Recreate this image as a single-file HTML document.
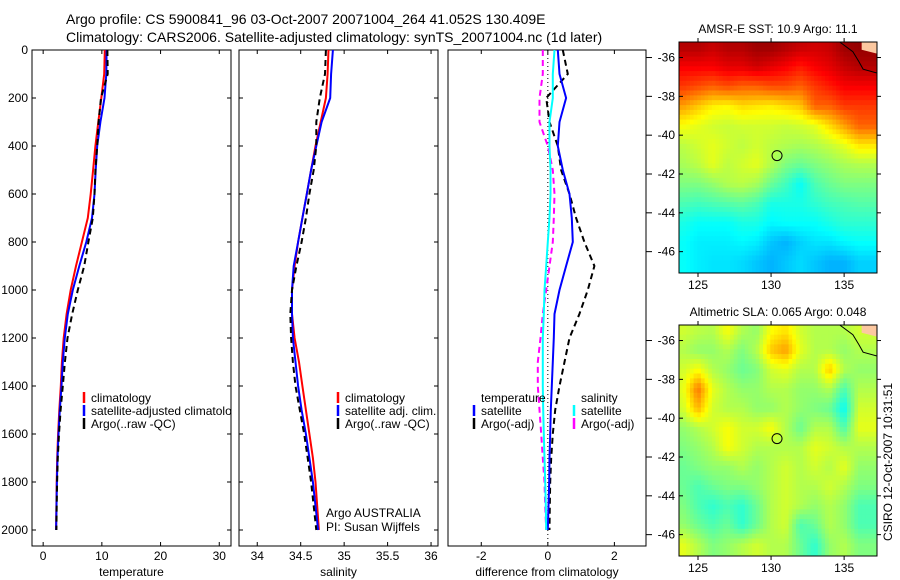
<!DOCTYPE html>
<html><head><meta charset="utf-8"><style>
body{margin:0;background:#fff;}
svg{display:block;font-family:"Liberation Sans",sans-serif;}
</style></head><body>
<svg id="fig" width="900" height="580" viewBox="0 0 900 580" xmlns="http://www.w3.org/2000/svg">
<rect width="900" height="580" fill="#fff"/>
<text x="66" y="24" font-size="14">Argo profile: CS 5900841_96 03-Oct-2007 20071004_264 41.052S 130.409E</text>
<text x="66" y="42" font-size="14">Climatology: CARS2006. Satellite-adjusted climatology: synTS_20071004.nc (1d later)</text>
<defs><clipPath id="p1clip"><rect x="32" y="380" width="199" height="60"/></clipPath></defs>
<g id="g"></g>
</svg>
<script>
// ---- profile data ----
const depths = [0,100,200,300,400,500,600,700,800,900,1000,1100,1200,1300,1400,1500,1600,1700,1800,1900,2000];
const climT = [10.5,10.4,9.9,9.4,8.9,8.5,8.1,7.6,6.6,5.6,4.7,4.0,3.5,3.2,3.0,2.75,2.55,2.4,2.3,2.25,2.2];
const satT = [10.8,10.75,10.45,9.75,9.2,8.95,8.75,8.32,7.35,6.15,5.05,4.2,3.68,3.35,3.12,2.84,2.62,2.45,2.34,2.27,2.2];
const argoT = [10.95,11.0,9.85,9.45,9.2,8.9,8.75,8.45,7.7,7.0,5.9,4.95,4.15,3.7,3.35,2.97,2.7,2.5,2.37,2.31,2.25];
const climS = [34.82,34.81,34.79,34.73,34.67,34.62,34.57,34.52,34.47,34.43,34.40,34.40,34.43,34.48,34.52,34.56,34.60,34.64,34.67,34.69,34.71];
const satS = [34.87,34.85,34.84,34.74,34.68,34.62,34.57,34.52,34.47,34.42,34.40,34.40,34.41,34.44,34.47,34.51,34.56,34.60,34.64,34.67,34.70];
const argoS = [34.79,34.78,34.72,34.68,34.68,34.65,34.60,34.56,34.51,34.45,34.40,34.38,34.39,34.41,34.44,34.49,34.54,34.58,34.62,34.65,34.68];
const dSatT = [0.3,0.35,0.55,0.35,0.3,0.45,0.65,0.72,0.75,0.55,0.35,0.2,0.18,0.15,0.12,0.09,0.07,0.05,0.04,0.02,0.0];
const dArgoT = [0.45,0.6,-0.05,0.05,0.3,0.4,0.65,0.85,1.1,1.4,1.2,0.95,0.65,0.5,0.35,0.22,0.15,0.1,0.07,0.06,0.05];
const dSatS = [0.2,0.15,0.15,0.05,0.05,0.08,0.08,0.05,0.0,-0.05,-0.1,-0.12,-0.15,-0.15,-0.15,-0.14,-0.12,-0.1,-0.08,-0.06,-0.05];
const dArgoS = [-0.15,-0.15,-0.25,-0.25,0.0,0.15,0.2,0.18,0.15,0.05,-0.05,-0.15,-0.22,-0.3,-0.3,-0.25,-0.2,-0.15,-0.1,-0.08,-0.05];
const depthTicks = [0,200,400,600,800,1000,1200,1400,1600,1800,2000];
const tTicks = [0,10,20,30];
const sTicks = [34,34.5,35,35.5,36];
const dTicks = [-2,0,2];
// ---- map data (jet-scale 0..1), rows from north (-35.5) to south (-46.5), cols 124..136 ----
const mapLons = [124,125,126,127,128,129,130,131,132,133,134,135,136];
const mapLats = [-35.5,-36.5,-37.5,-38.5,-39.5,-40.5,-41.5,-42.5,-43.5,-44.5,-45.5,-46.5];
const sstGrid = [
[0.95,0.95,0.93,0.95,0.95,0.97,0.97,0.95,0.93,0.92,0.93,0.97,0.98],
[0.88,0.88,0.88,0.9,0.9,0.92,0.9,0.88,0.85,0.88,0.9,0.93,0.95],
[0.82,0.8,0.78,0.8,0.78,0.78,0.8,0.8,0.78,0.82,0.85,0.88,0.88],
[0.72,0.68,0.64,0.63,0.66,0.65,0.64,0.66,0.68,0.78,0.78,0.82,0.82],
[0.62,0.6,0.58,0.57,0.58,0.58,0.58,0.57,0.58,0.6,0.66,0.72,0.78],
[0.56,0.58,0.6,0.58,0.56,0.58,0.56,0.55,0.54,0.55,0.57,0.6,0.65],
[0.54,0.56,0.6,0.56,0.58,0.6,0.55,0.5,0.48,0.5,0.52,0.54,0.55],
[0.5,0.5,0.52,0.55,0.56,0.54,0.48,0.44,0.38,0.45,0.48,0.5,0.5],
[0.45,0.44,0.45,0.46,0.47,0.45,0.4,0.4,0.4,0.42,0.44,0.45,0.46],
[0.4,0.38,0.38,0.38,0.4,0.4,0.37,0.38,0.38,0.38,0.4,0.42,0.42],
[0.38,0.36,0.36,0.36,0.37,0.36,0.32,0.3,0.33,0.35,0.35,0.37,0.38],
[0.38,0.36,0.35,0.35,0.34,0.32,0.3,0.32,0.34,0.32,0.3,0.3,0.33]];
const slaGrid = [
[.58,.56,.55,.62,.55,.52,.62,.65,.58,.55,.55,.55,.58],
[.55,.52,.52,.55,.5,.55,.68,.72,.6,.55,.55,.52,.55],
[.58,.62,.55,.52,.48,.5,.58,.6,.55,.55,.68,.55,.52],
[.6,.76,.6,.55,.52,.52,.55,.55,.52,.52,.55,.45,.55],
[.58,.7,.58,.55,.55,.52,.52,.55,.52,.5,.48,.38,.58],
[.52,.55,.58,.62,.58,.58,.62,.55,.48,.55,.55,.45,.6],
[.5,.52,.55,.62,.58,.55,.55,.55,.55,.6,.58,.55,.55],
[.48,.5,.52,.52,.55,.52,.55,.58,.55,.58,.55,.6,.52],
[.48,.45,.48,.5,.5,.52,.55,.58,.55,.55,.58,.55,.5],
[.5,.45,.42,.45,.42,.48,.55,.58,.55,.52,.55,.52,.45],
[.52,.48,.45,.48,.42,.48,.55,.58,.45,.48,.55,.52,.45],
[.6,.55,.5,.52,.55,.58,.55,.55,.48,.42,.52,.55,.5]];
const latTicks = [-36,-38,-40,-42,-44,-46];
const lonTicks = [125,130,135];
const floatLon = 130.409, floatLat = -41.052;

const NS="http://www.w3.org/2000/svg";
const G=document.getElementById('g');
function el(tag,attrs,parent){const e=document.createElementNS(NS,tag);for(const k in attrs)e.setAttribute(k,attrs[k]);(parent||G).appendChild(e);return e;}
function txt(x,y,s,anchor,size,parent){const t=el('text',{x:x,y:y,'font-size':size||12,'text-anchor':anchor||'start'},parent);t.textContent=s;return t;}

const Y0=50, Y1=546, yScale=d=>50+d*0.24;
const panels=[
 {x0:32,x1:231,min:-1.9,max:32,ticks:tTicks,label:'temperature',name:'temperature-panel'},
 {x0:239,x1:438,min:33.79,max:36.08,ticks:sTicks,label:'salinity',name:'salinity-panel'},
 {x0:448,x1:646,min:-3.0,max:2.95,ticks:dTicks,label:'difference from climatology',name:'difference-panel'}];
panels.forEach((p,i)=>{
 p.xs=v=>p.x0+(v-p.min)/(p.max-p.min)*(p.x1-p.x0);
 const g=el('g',{});
 
 
 el('rect',{x:p.x0,y:Y0,width:p.x1-p.x0,height:Y1-Y0,fill:'#fff',stroke:'#000','stroke-width':1},g);
 p.ticks.forEach(t=>{const x=p.xs(t);
  el('line',{x1:x,x2:x,y1:Y1,y2:Y1-4,stroke:'#000'},g);
  el('line',{x1:x,x2:x,y1:Y0,y2:Y0+4,stroke:'#000'},g);
  const lb=txt(x,560,String(t),'middle',12,g);
  
  
 });
 if(i<2){depthTicks.forEach(d=>{const y=yScale(d);
  el('line',{x1:p.x0,x2:p.x0+4,y1:y,y2:y,stroke:'#000'},g);
  el('line',{x1:p.x1,x2:p.x1-4,y1:y,y2:y,stroke:'#000'},g);
 });}
 const xt=txt((p.x0+p.x1)/2,576,p.label,'middle',12,g);
 
 
});
depthTicks.forEach(d=>{const t=txt(28,yScale(d)+4,String(d),'end',12);
 
 });
latTicks.forEach(l=>{[42,325].forEach(top=>{const y=top+(-35.2-l)/11.9*231;
 el('line',{x1:646,x2:652,y1:y,y2:y,stroke:'#000'});});});
el('line',{x1:panels[2].xs(0),x2:panels[2].xs(0),y1:Y0,y2:Y1,stroke:'#000','stroke-dasharray':'1,3'});

function line(p,vals,color,dash,name){
 const pts=vals.map((v,i)=>p.xs(v).toFixed(1)+','+yScale(depths[i]).toFixed(1)).join(' ');
 const l=el('polyline',{points:pts,fill:'none',stroke:color,'stroke-width':2});
 if(dash)l.setAttribute('stroke-dasharray','6,4');
 
 
}
line(panels[0],climT,'#ff0000',false,'climatology-temperature-line');
line(panels[0],satT,'#0000ff',false,'satellite-temperature-line');
line(panels[0],argoT,'#000',true,'argo-temperature-line');
line(panels[1],climS,'#ff0000',false,'climatology-salinity-line');
line(panels[1],satS,'#0000ff',false,'satellite-salinity-line');
line(panels[1],argoS,'#000',true,'argo-salinity-line');
line(panels[2],dArgoT,'#000',true,'argo-temperature-diff-line');
line(panels[2],dSatT,'#0000ff',false,'satellite-temperature-diff-line');
line(panels[2],dArgoS,'#ff00ff',true,'argo-salinity-diff-line');
line(panels[2],dSatS,'#00ffff',false,'satellite-salinity-diff-line');

function legend(x,y,color,label,clip){
 const g=el('g',{});
 
 
 if(clip)g.setAttribute('clip-path','url(#p1clip)');
 if(color)el('line',{x1:x,x2:x,y1:y-10,y2:y+1,stroke:color,'stroke-width':2.5},g);
 txt(x+7,y,label,'start',12,g);
}
legend(84,402,'#ff0000','climatology',true);
legend(84,415,'#0000ff','satellite-adjusted climatology',true);
legend(84,428,'#000','Argo(..raw -QC)',true);
legend(338,402,'#ff0000','climatology');
legend(338,415,'#0000ff','satellite adj. clim.');
legend(338,428,'#000','Argo(..raw -QC)');
legend(474,402,null,'temperature');
legend(474,415,'#0000ff','satellite');
legend(474,428,'#000','Argo(-adj)');
legend(574,402,null,'salinity');
legend(574,415,'#00ffff','satellite');
legend(574,428,'#ff00ff','Argo(-adj)');
const pi1=txt(326,517,'Argo AUSTRALIA');
const pi2=txt(326,531,'PI: Susan Wijffels');

// ---- maps ----
function jet(v){const c=x=>Math.round(255*Math.max(0,Math.min(1,x)));
 return 'rgb('+c(1.5-Math.abs(4*v-3))+','+c(1.5-Math.abs(4*v-2))+','+c(1.5-Math.abs(4*v-1))+')';}
function sample(grid,lon,lat){ // bilinear interpolation of grid at lon/lat
 const nc=mapLons.length,nr=mapLats.length;
 let fc=(lon-mapLons[0]); fc=Math.max(0,Math.min(nc-1,fc));
 let fr=(mapLats[0]-lat); fr=Math.max(0,Math.min(nr-1,fr));
 const c0=Math.min(nc-2,Math.floor(fc)),r0=Math.min(nr-2,Math.floor(fr));
 const tx=fc-c0,ty=fr-r0;
 const a=grid[r0][c0],b=grid[r0][c0+1],c=grid[r0+1][c0],d=grid[r0+1][c0+1];
 return a*(1-tx)*(1-ty)+b*tx*(1-ty)+c*(1-tx)*ty+d*tx*ty;
}
function map(top,grid,title,name){
 const X0=679,X1=877,H=231,lon0=123.7,lon1=137.25,lat0=-35.2,lat1=-47.1;
 const lx=l=>X0+(l-lon0)/(lon1-lon0)*(X1-X0);
 const ly=l=>top+(lat0-l)/(lat0-lat1)*H;
 const g=el('g',{});
 
 
 const cp=el('clipPath',{id:'cp'+top},g);
 el('rect',{x:X0,y:top,width:X1-X0,height:H},cp);
 const cg=el('g',{'clip-path':'url(#cp'+top+')'},g);
 const step=0.25;
 for(let lat=lat0;lat>lat1-step;lat-=step){
  for(let lon=lon0;lon<lon1;lon+=step){
   const v=sample(grid,lon+step/2,lat-step/2);
   const x=lx(lon),y=ly(lat);
   const cell=el('rect',{x:x.toFixed(1),y:y.toFixed(1),width:(lx(lon+step)-x+0.6).toFixed(1),height:(ly(lat-step)-y+0.6).toFixed(1),fill:jet(v)},cg);
   
   
  }
 }
 el('polygon',{points:`${lx(137.25)},${ly(-35.2)} ${lx(136.2)},${ly(-35.2)} ${lx(136.2)},${ly(-35.6)} ${lx(137.25)},${ly(-35.8)}`,fill:'#fcc8a0'},cg);
 el('polyline',{points:`${lx(134.7)},${ly(-35.2)} ${lx(135.6)},${ly(-35.7)} ${lx(136)},${ly(-36.2)} ${lx(136.3)},${ly(-36.6)} ${lx(137.25)},${ly(-36.8)}`,fill:'none',stroke:'#000','stroke-width':1},cg);
 el('rect',{x:X0,y:top,width:X1-X0,height:H,fill:'none',stroke:'#000'},g);
 latTicks.forEach(l=>{const y=ly(l);
  el('line',{x1:X0,x2:X0+4,y1:y,y2:y,stroke:'#000'},g);
  el('line',{x1:X1,x2:X1+4,y1:y,y2:y,stroke:'#000'},g);
  txt(675,y+4,String(l),'end',12,g);});
 lonTicks.forEach(l=>{const x=lx(l);
  el('line',{x1:x,x2:x,y1:top,y2:top-4,stroke:'#000'},g);
  el('line',{x1:x,x2:x,y1:top+H,y2:top+H+4,stroke:'#000'},g);
  txt(x,top+H+16,String(l),'middle',12,g);});
 const m=el('circle',{cx:lx(floatLon),cy:ly(floatLat),r:5,fill:'none',stroke:'#000'},g);
 
 
 const t=txt(778,top-9,title,'middle',12,g);
 
 
}
map(42,sstGrid,'AMSR-E SST: 10.9 Argo: 11.1','sst-map');
map(325,slaGrid,'Altimetric SLA: 0.065 Argo: 0.048','sla-map');
const ts=txt(0,0,'CSIRO 12-Oct-2007 10:31:51','middle',12);
ts.setAttribute('transform','translate(892,462) rotate(-90)');


</script>
</body></html>
